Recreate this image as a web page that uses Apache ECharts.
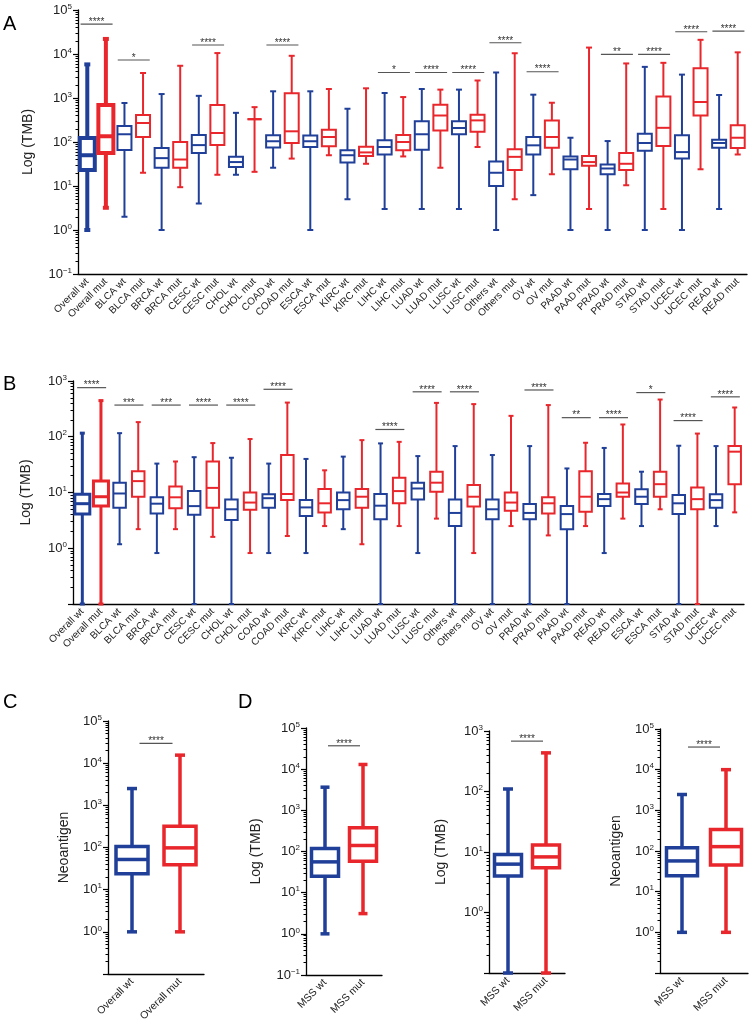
<!DOCTYPE html>
<html>
<head>
<meta charset="utf-8">
<script src="https://cdn.jsdelivr.net/npm/echarts@6/dist/echarts.min.js"></script>
<style>
  html, body { margin: 0; padding: 0; background: #fff; }
  #main { width: 753px; height: 1025px; }
</style>
</head>
<body>
<div id="main"></div>
<script>
// ---- data: [min, Q1, median, Q3, max] per box ----
var catsA = ['Overall wt','Overall mut','BLCA wt','BLCA mut','BRCA wt','BRCA mut','CESC wt','CESC mut',
  'CHOL wt','CHOL mut','COAD wt','COAD mut','ESCA wt','ESCA mut','KIRC wt','KIRC mut','LIHC wt','LIHC mut',
  'LUAD wt','LUAD mut','LUSC wt','LUSC mut','Others wt','Others mut','OV wt','OV mut','PAAD wt','PAAD mut',
  'PRAD wt','PRAD mut','STAD wt','STAD mut','UCEC wt','UCEC mut','READ wt','READ mut'];
var tmbA = [
  [1, 23, 50, 123, 5800], [3.2, 56, 135, 690, 22000],
  [2, 66, 150, 230, 770], [20, 130, 270, 410, 3700],
  [1, 26, 43, 73, 1230], [9.4, 26, 40, 100, 5400],
  [4, 56, 85, 145, 1120], [18, 85, 160, 690, 10500],
  [18, 27, 35, 46, 460], [21, 330, 330, 330, 620],
  [26, 75, 104, 142, 1420], [42, 95, 175, 1290, 9100],
  [1, 77, 104, 140, 1420], [50, 80, 130, 190, 1600],
  [5, 34, 50, 65, 570], [32, 48, 58, 78, 1660],
  [3, 52, 77, 110, 1300], [47, 65, 100, 145, 1050],
  [3, 67, 150, 295, 1600], [26, 183, 400, 700, 1550],
  [3, 150, 208, 295, 1550], [77, 170, 310, 415, 2500],
  [1, 10, 20, 36, 3800], [5, 23, 46, 68, 10400],
  [6.2, 52, 84, 130, 1190], [18.5, 74, 130, 310, 780],
  [1, 24, 40, 47, 125], [3, 29, 35, 48, 14000],
  [1, 18.5, 25, 31, 105], [10.4, 23, 32, 56, 6100],
  [1, 63, 95, 155, 5100], [3, 81, 210, 1080, 6300],
  [1, 42, 59, 142, 3400], [24, 400, 810, 4750, 21000],
  [3, 74, 95, 113, 1170], [52, 73, 125, 240, 10900]
];
var sigIdxA = [0, 2, 6, 10, 16, 18, 20, 22, 24, 28, 30, 32, 34];
var sigValA = [48000, 7300, 16000, 16000, 3800, 3800, 3800, 18000, 3950, 9800, 9800, 32000, 33000];
var sigStarsA = ['****','*','****','****','*','****','****','****','****','**','****','****','****'];

var catsB = ['Overall wt','Overall mut','BLCA wt','BLCA mut','BRCA wt','BRCA mut','CESC wt','CESC mut',
  'CHOL wt','CHOL mut','COAD wt','COAD mut','KIRC wt','KIRC mut','LIHC wt','LIHC mut','LUAD wt','LUAD mut',
  'LUSC wt','LUSC mut','Others wt','Others mut','OV wt','OV mut','PRAD wt','PRAD mut','PAAD wt','PAAD mut',
  'READ wt','READ mut','ESCA wt','ESCA mut','STAD wt','STAD mut','UCEC wt','UCEC mut'];
var tmbB = [
  [0.1, 4.1, 6.3, 9.3, 116], [0.1, 5.7, 8.4, 16, 445],
  [1.18, 5.3, 9.6, 15, 116], [2.2, 8.4, 16, 24, 183],
  [0.82, 4.2, 6.3, 8.2, 33], [2.2, 5.2, 8.2, 12.8, 36],
  [0.1, 4.0, 5.7, 10.6, 43], [1.6, 5.3, 12.1, 36, 77],
  [0.1, 3.2, 5, 7.5, 42], [0.82, 4.9, 6.6, 10, 91],
  [0.82, 5.3, 7.9, 9.3, 33], [1.66, 7.3, 9.4, 47, 410],
  [0.82, 3.8, 5.4, 7.3, 40], [2.5, 4.4, 6.4, 11.5, 25],
  [2.2, 5, 7.3, 10, 44], [1.18, 5.3, 8.4, 11.5, 87],
  [0.1, 3.3, 5.8, 9.4, 76], [2.5, 6.4, 10.6, 18.4, 81],
  [0.82, 7.5, 11.8, 15, 45], [3.4, 10.3, 15, 23.6, 405],
  [0.1, 2.5, 4.3, 7.5, 68], [0.82, 5.6, 8.4, 13.6, 385],
  [0.1, 3.3, 5, 7.5, 47], [2.5, 4.7, 6.6, 10, 237],
  [0.1, 3.3, 4.3, 6.2, 68], [1.7, 4.2, 6.4, 8.2, 370],
  [0.1, 2.2, 4.1, 5.7, 27], [2.5, 4.5, 8.4, 24, 78],
  [0.82, 5.7, 7.6, 9.4, 63], [3.4, 8.4, 10, 14.5, 166],
  [2.5, 6.2, 8.4, 11.4, 23.6], [5, 8.4, 14.1, 23.6, 465],
  [0.1, 4.1, 6.4, 9, 69], [0.1, 5, 7.6, 12.3, 114],
  [2.5, 5.3, 7.3, 9.3, 68], [4.4, 14, 54, 68, 335]
];
var sigIdxB = [0, 2, 4, 6, 8, 10, 16, 18, 20, 24, 26, 28, 30, 32, 34];
var sigValB = [760, 370, 370, 370, 370, 710, 135, 640, 640, 690, 220, 220, 620, 195, 520];
var sigStarsB = ['****','***','***','****','****','****','****','****','****','****','**','****','*','****','****'];

var catsC = ['Overall wt', 'Overall mut'];
var neoC = [[1, 24, 52, 106, 2500], [1, 39, 98, 320, 15500]];

var catsD = ['MSS wt', 'MSS mut'];
var tmbD = [[1, 25, 56, 118, 3650], [3.1, 58, 140, 375, 13000]];
var logD = [[0.1, 4.0, 6.3, 9.1, 110], [0.1, 5.5, 8.3, 13, 435]];
var neoD = [[1, 24.5, 57, 120, 2450], [1, 45, 128, 340, 10000]];

var sigValC = [29500], sigValD1 = [37000], sigValD2 = [680], sigValD3 = [36000];

// ---- styling ----
var BLUE = '#1f3f98';
var RED = '#e8262b';
var FONT = '"Liberation Sans", Arial, Helvetica, sans-serif';

var panels = [
  { cats: catsA, stats: tmbA, grid: { left: 78, top: 10, width: 669, height: 264 }, max: 1e5, showMin: true,
    name: 'Log (TMB)', nameGap: 43, box: 14, bigBox: 15, cap: 6, lw: 2, thick: 4, xFont: 10,
    sig: sigIdxA, sigY: sigValA, stars: sigStarsA, sigLen: 32 },
  { cats: catsB, stats: tmbB, grid: { left: 73, top: 381, width: 671, height: 223 }, max: 1e3, showMin: false,
    name: 'Log (TMB)', nameGap: 40, box: 12.5, bigBox: 15, cap: 5, lw: 2, thick: 3, xFont: 10,
    sig: sigIdxB, sigY: sigValB, stars: sigStarsB, sigLen: 29 },
  { cats: catsC, stats: neoC, grid: { left: 108, top: 721, width: 96, height: 253 }, max: 1e5, showMin: false,
    name: 'Neoantigen', nameGap: 37, box: 32, cap: 10, lw: 3.5, xFont: 10.5,
    sig: [0], sigY: sigValC, stars: ['****'], sigLen: 33 },
  { cats: catsD, stats: tmbD, grid: { left: 306, top: 728, width: 76, height: 247 }, max: 1e5, showMin: true,
    name: 'Log (TMB)', nameGap: 43, box: 27, cap: 9, lw: 3.5, xFont: 10.5,
    sig: [0], sigY: sigValD1, stars: ['****'], sigLen: 32 },
  { cats: catsD, stats: logD, grid: { left: 489, top: 731, width: 76, height: 242 }, max: 1e3, showMin: false,
    name: 'Log (TMB)', nameGap: 41, box: 27, cap: 10, lw: 3.5, xFont: 10.5,
    sig: [0], sigY: sigValD2, stars: ['****'], sigLen: 32 },
  { cats: catsD, stats: neoD, grid: { left: 660, top: 729, width: 88, height: 244 }, max: 1e5, showMin: false,
    name: 'Neoantigen', nameGap: 37, box: 31, cap: 10, lw: 3.5, xFont: 10.5,
    sig: [0], sigY: sigValD3, stars: ['****'], sigLen: 32 }
];

// box + whiskers drawn through the axis scales
function boxRenderer(p) {
  return function (params, api) {
    var i = api.value(0);
    var pt = [1, 2, 3, 4, 5].map(function (d) { return api.coord([i, api.value(d)]); });
    var x = pt[0][0];
    var nm = p.cats[i];
    var color = /mut$/.test(nm) ? RED : BLUE;
    var big = p.thick && /^Overall/.test(nm);
    var lw = big ? p.thick : p.lw;
    var hw = (big ? p.bigBox : p.box) / 2;
    var hc = p.cap / 2;
    function L(x1, y1, x2, y2) {
      return { type: 'line', shape: { x1: x1, y1: y1, x2: x2, y2: y2 }, style: { stroke: color, lineWidth: lw } };
    }
    return {
      type: 'group',
      children: [
        L(x, pt[3][1], x, pt[4][1]),
        L(x, pt[1][1], x, pt[0][1]),
        L(x - hc, pt[4][1], x + hc, pt[4][1]),
        L(x - hc, pt[0][1], x + hc, pt[0][1]),
        { type: 'rect', shape: { x: x - hw, y: pt[3][1], width: 2 * hw, height: pt[1][1] - pt[3][1] },
          style: { stroke: color, lineWidth: lw, fill: '#fff' } },
        L(x - hw, pt[2][1], x + hw, pt[2][1])
      ]
    };
  };
}

// significance bars with stars
function sigRenderer(p) {
  return function (params, api) {
    var i = api.value(0);
    var a = api.coord([i, api.value(1)]);
    var b = api.coord([i + 1, api.value(1)]);
    var m = (a[0] + b[0]) / 2;
    return {
      type: 'group',
      children: [
        { type: 'line', shape: { x1: m - p.sigLen / 2, y1: a[1], x2: m + p.sigLen / 2, y2: a[1] },
          style: { stroke: '#555', lineWidth: 1.2 } },
        { type: 'text', x: m, y: a[1] + 3,
          style: { text: p.stars[params.dataIndex], fontSize: 10, fill: '#333', align: 'center',
                   verticalAlign: 'bottom', fontFamily: FONT } }
      ]
    };
  };
}

var grids = [], xAxes = [], yAxes = [], series = [];
panels.forEach(function (p, k) {
  grids.push(Object.assign({ containLabel: false, outerBoundsMode: 'none' }, p.grid));
  xAxes.push({
    type: 'category', gridIndex: k, data: p.cats,
    axisLine: { lineStyle: { color: '#000', width: 1.3 } },
    axisTick: { alignWithLabel: true, length: 5, lineStyle: { color: '#000', width: 1 } },
    axisLabel: { rotate: 45, interval: 0, margin: 6, fontSize: p.xFont, color: '#222', fontFamily: FONT },
    splitLine: { show: false }
  });
  yAxes.push({
    type: 'log', logBase: 10, gridIndex: k, min: 0.1, max: p.max, splitNumber: Math.round(Math.log10(p.max)) + 1,
    axisLine: { show: true, lineStyle: { color: '#000', width: 1.3 } },
    axisTick: { show: true, length: 5, lineStyle: { color: '#000', width: 1.2 } },
    minorTick: { show: true, splitNumber: 9, length: 2.5, lineStyle: { color: '#000', width: 1 } },
    splitLine: { show: false },
    axisLabel: {
      showMinLabel: p.showMin, margin: 6, color: '#222', fontFamily: FONT, fontSize: 13,
      formatter: function (v) {
        var e = Math.round(Math.log10(v));
        return '{b|10}{s|' + (e < 0 ? '\u2212' + (-e) : e) + '}';
      },
      rich: {
        b: { fontSize: 13, fontFamily: FONT, color: '#222' },
        s: { fontSize: 8, fontFamily: FONT, color: '#222', padding: [0, 0, 7, 0] }
      }
    },
    name: p.name, nameLocation: 'middle', nameGap: p.nameGap,
    nameTextStyle: { fontSize: 14, color: '#222', fontFamily: FONT }
  });
  series.push({
    type: 'custom', xAxisIndex: k, yAxisIndex: k, silent: true, clip: false,
    data: p.stats.map(function (s, i) { return [i].concat(s); }),
    encode: { x: 0, y: [1, 2, 3, 4, 5] },
    renderItem: boxRenderer(p)
  });
  series.push({
    type: 'custom', xAxisIndex: k, yAxisIndex: k, silent: true, clip: false,
    data: p.sig.map(function (s, i) { return [s, p.sigY[i]]; }),
    encode: { x: 0, y: 1 },
    renderItem: sigRenderer(p)
  });
});

var chart = echarts.init(document.getElementById('main'), null, { renderer: 'canvas' });
chart.setOption({
  backgroundColor: '#fff',
  animation: false,
  grid: grids,
  xAxis: xAxes,
  yAxis: yAxes,
  series: series,
  graphic: [
    { type: 'text', left: 3, top: 14, style: { text: 'A', fontSize: 20, fill: '#000', fontFamily: FONT } },
    { type: 'text', left: 3, top: 374, style: { text: 'B', fontSize: 20, fill: '#000', fontFamily: FONT } },
    { type: 'text', left: 3, top: 692, style: { text: 'C', fontSize: 20, fill: '#000', fontFamily: FONT } },
    { type: 'text', left: 238, top: 692, style: { text: 'D', fontSize: 20, fill: '#000', fontFamily: FONT } }
  ]
});
</script>
</body>
</html>
